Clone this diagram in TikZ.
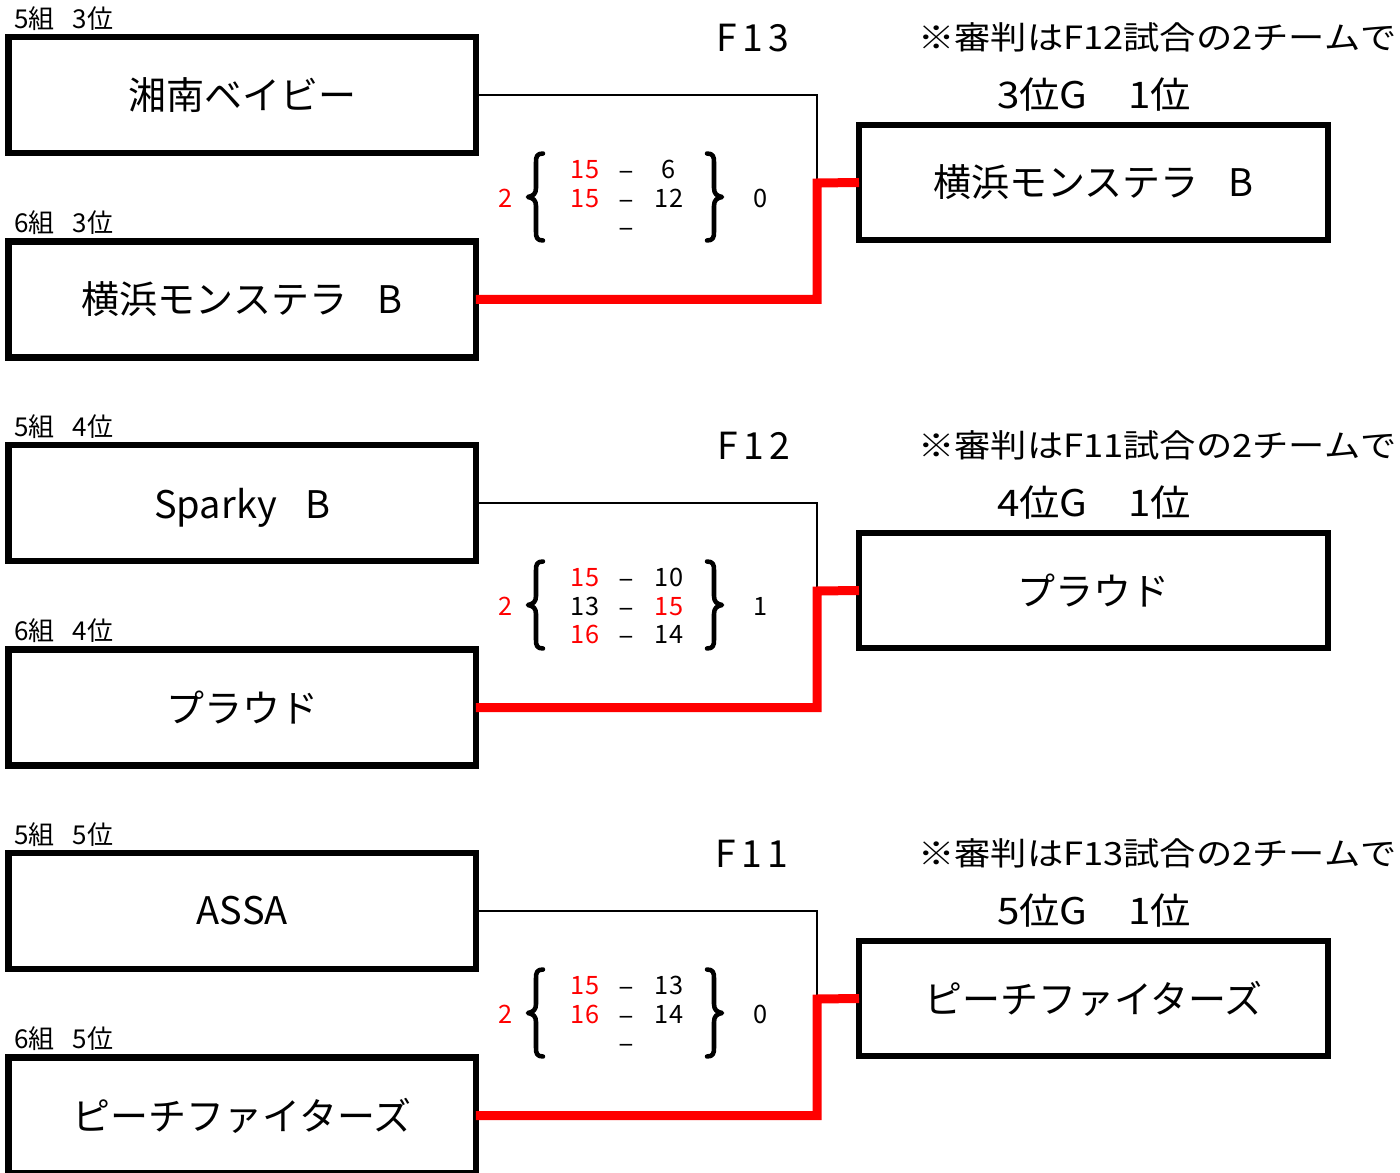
\documentclass[tikz,border=0pt]{standalone}
\usepackage{fontspec}
\setmainfont{Noto Sans CJK JP}
\newfontfamily\dvfont{DejaVu Sans}
\definecolor{winred}{RGB}{255,0,0}
\newcommand\teamfont{\fontsize{28.5}{30}\selectfont}
\tikzset{
  lbox/.style={draw, line width=4.9pt, minimum width=350.6pt, minimum height=87pt,
    inner sep=0pt, outer sep=0pt, font=\teamfont},
  rbox/.style={lbox, minimum width=351.75pt, minimum height=86.25pt},
  grp/.style={anchor=west, inner sep=0pt, font=\fontsize{19.5}{21}\selectfont},
  fnum/.style={inner sep=0pt, font=\fontsize{28}{30}\selectfont},
  note/.style={inner sep=0pt, xscale=1.134, font=\fontsize{24}{26}\selectfont},
  rank/.style={inner sep=0pt, xscale=1.1, font=\fontsize{27.5}{29}\selectfont},
  sc/.style={inner sep=0pt, text height=13.9pt, text depth=0pt, font=\fontsize{19}{20}\selectfont},
  scr/.style={sc, text=winred},
  minussign/.style={sc, font=\dvfont\fontsize{15}{16}\selectfont},
  thinline/.style={line width=2.1pt},
  redline/.style={line width=6.75pt, draw=winred, line join=miter},
  bracestroke/.style={line width=3.4pt, line cap=round, line join=round},
  lbr/.pic={\draw[bracestroke] (7.5,-43.5) .. controls (1.5,-43.5) and (0.5,-40.5) .. (0.5,-35)
      -- (0.5,-9) .. controls (0.5,-3) and (-2.5,-1) .. (-7.5,0)
      .. controls (-2.5,1) and (0.5,3) .. (0.5,9) -- (0.5,35)
      .. controls (0.5,40.5) and (1.5,43.5) .. (7.5,43.5);}
}
\begin{document}
\begin{tikzpicture}[x=0.75pt,y=-0.75pt]
\useasboundingbox (0,0) rectangle (1400,1173);
% ---------- group F13 ----------
\begin{scope}
  \node[grp] (la1) at (14,18.5) {5組\hspace{0.7em}3位};
  \node[grp] (lb1) at (14,222.5) {6組\hspace{0.7em}3位};
  \node[lbox] (a1) at (242.25,95) {湘南ベイビー};
  \node[lbox] (b1) at (242.25,299.5) {横浜モンステラ\hspace{0.8em}B};
  \node[rbox] (w1) at (1093.5,182.5) {横浜モンステラ\hspace{0.8em}B};
  \node[fnum] (f1) at (753,38) {F\kern4pt 1\kern4pt 3};
  \node[note] (n1) at (1157.5,37) {※審判はF12試合の2チームで};
  \node[rank] (r1) at (1094,95) {3位G　1位};
  \coordinate (j1) at (817,183);
  \draw[thinline] (a1.east) -- (a1.east -| j1) -- (j1);
  \draw[redline] (b1.east) -- (b1.east -| j1) -- (j1) -- (w1.west);
  \node[scr] (s1) at (506,198) {2};
  \pic (bl1) at (535.5,197) {lbr};
  \pic[xscale=-1] (br1) at (714.5,197) {lbr};
  \node[scr] (s1a) at (585,169) {15};
  \node[minussign] (d1a) at (626,169) {−};
  \node[sc]  (t1a) at (669,169) {6};
  \node[scr] (s1b) at (585,198) {15};
  \node[minussign] (d1b) at (626,198) {−};
  \node[sc]  (t1b) at (669,198) {12};
  \node[minussign] (d1c) at (626,226) {−};
  \node[sc]  (e1) at (761,198) {0};
\end{scope}
% ---------- group F12 ----------
\begin{scope}[yshift=-306pt]
  \node[grp] (la2) at (14,18.5) {5組\hspace{0.7em}4位};
  \node[grp] (lb2) at (14,222.5) {6組\hspace{0.7em}4位};
  \node[lbox, text depth=0pt] (a2) at (242.25,95) {Sparky\hspace{0.75em}B};
  \node[lbox] (b2) at (242.25,299.5) {プラウド};
  \node[rbox] (w2) at (1093.5,182.5) {プラウド};
  \node[fnum] (f2) at (754,38) {F\kern4pt 1\kern4pt 2};
  \node[note] (n2) at (1157.5,37) {※審判はF11試合の2チームで};
  \node[rank] (r2) at (1094,95) {4位G　1位};
  \coordinate (j2) at (817,183);
  \draw[thinline] (a2.east) -- (a2.east -| j2) -- (j2);
  \draw[redline] (b2.east) -- (b2.east -| j2) -- (j2) -- (w2.west);
  \node[scr] (s2) at (506,198) {2};
  \pic (bl2) at (535.5,197) {lbr};
  \pic[xscale=-1] (br2) at (714.5,197) {lbr};
  \node[scr] (s2a) at (585,169) {15};
  \node[minussign] (d2a) at (626,169) {−};
  \node[sc]  (t2a) at (669,169) {10};
  \node[sc]  (s2b) at (585,198) {13};
  \node[minussign] (d2b) at (626,198) {−};
  \node[scr] (t2b) at (669,198) {15};
  \node[scr] (s2c) at (585,226) {16};
  \node[minussign] (d2c) at (626,226) {−};
  \node[sc]  (t2c) at (669,226) {14};
  \node[sc]  (e2) at (761,198) {1};
\end{scope}
% ---------- group F11 ----------
\begin{scope}[yshift=-612pt]
  \node[grp] (la3) at (14,18.5) {5組\hspace{0.7em}5位};
  \node[grp] (lb3) at (14,222.5) {6組\hspace{0.7em}5位};
  \node[lbox] (a3) at (242.25,95) {ASSA};
  \node[lbox] (b3) at (242.25,299.5) {ピーチファイターズ};
  \node[rbox] (w3) at (1093.5,182.5) {ピーチファイターズ};
  \node[fnum] (f3) at (752,38) {F\kern4pt 1\kern4pt 1};
  \node[note] (n3) at (1157.5,37) {※審判はF13試合の2チームで};
  \node[rank] (r3) at (1094,95) {5位G　1位};
  \coordinate (j3) at (817,183);
  \draw[thinline] (a3.east) -- (a3.east -| j3) -- (j3);
  \draw[redline] (b3.east) -- (b3.east -| j3) -- (j3) -- (w3.west);
  \node[scr] (s3) at (506,198) {2};
  \pic (bl3) at (535.5,197) {lbr};
  \pic[xscale=-1] (br3) at (714.5,197) {lbr};
  \node[scr] (s3a) at (585,169) {15};
  \node[minussign] (d3a) at (626,169) {−};
  \node[sc]  (t3a) at (669,169) {13};
  \node[scr] (s3b) at (585,198) {16};
  \node[minussign] (d3b) at (626,198) {−};
  \node[sc]  (t3b) at (669,198) {14};
  \node[minussign] (d3c) at (626,226) {−};
  \node[sc]  (e3) at (761,198) {0};
\end{scope}
\end{tikzpicture}
\end{document}
